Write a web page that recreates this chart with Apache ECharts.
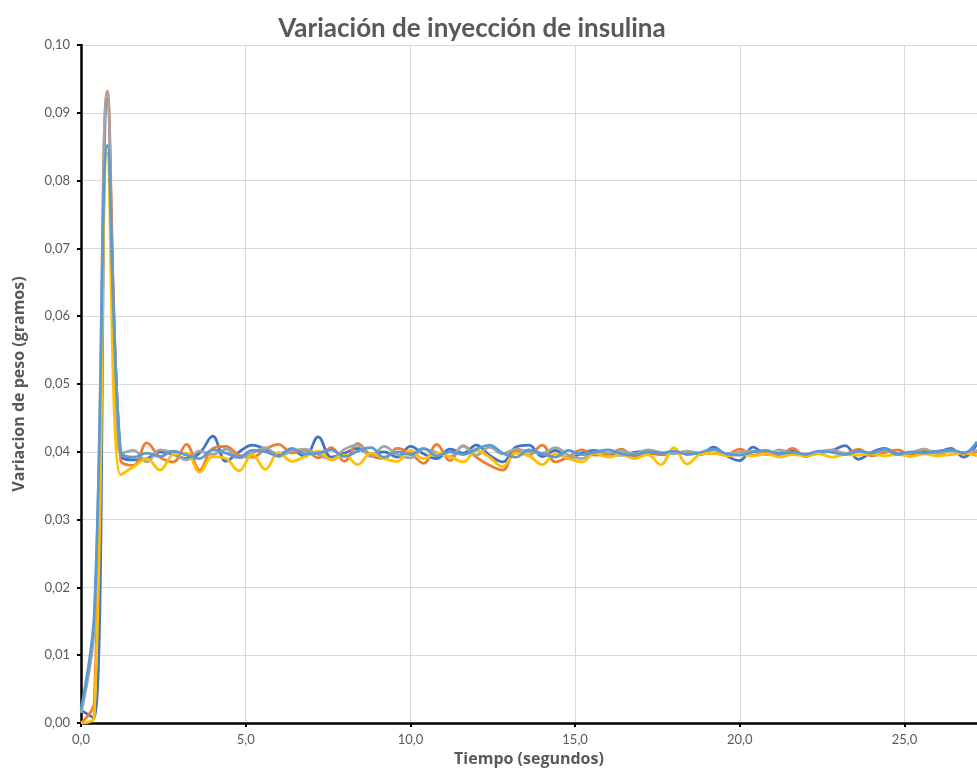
<!DOCTYPE html>
<html>
<head>
<meta charset="utf-8">
<script src="https://cdn.jsdelivr.net/npm/echarts@6/dist/echarts.min.js"></script>
<style>
  html, body { margin: 0; padding: 0; background: #fff; }
  #chart { width: 977px; height: 771px; }
</style>
</head>
<body>
<div id="chart"></div>
<script>
// Sample times (s)
const tiempo = [
  0.0, 0.4, 0.8, 1.2, 1.6, 2.0, 2.4, 2.8, 3.2, 3.6, 4.0, 4.4, 4.8, 5.2, 5.6, 6.0, 6.4, 6.8, 7.2, 7.6,
  8.0, 8.4, 8.8, 9.2, 9.6, 10.0, 10.4, 10.8, 11.2, 11.6, 12.0, 12.4, 12.8, 13.2, 13.6, 14.0, 14.4, 14.8, 15.2, 15.6,
  16.0, 16.4, 16.8, 17.2, 17.6, 18.0, 18.4, 18.8, 19.2, 19.6, 20.0, 20.4, 20.8, 21.2, 21.6, 22.0, 22.4, 22.8, 23.2, 23.6,
  24.0, 24.4, 24.8, 25.2, 25.6, 26.0, 26.4, 26.8, 27.2
];

// Weight variation (g), one list per run
const serie1 = [
  0.0019, 0.0007, 0.0920, 0.0395, 0.0388, 0.0390, 0.0400, 0.0396, 0.0390, 0.0398, 0.0423, 0.0386, 0.0400, 0.0410, 0.0404, 0.0397, 0.0402, 0.0393, 0.0422, 0.0392,
  0.0398, 0.0405, 0.0396, 0.0400, 0.0392, 0.0408, 0.0397, 0.0390, 0.0404, 0.0398, 0.0410, 0.0395, 0.0385, 0.0407, 0.0410, 0.0393, 0.0402, 0.0390, 0.0398, 0.0402,
  0.0397, 0.0395, 0.0399, 0.0401, 0.0396, 0.0398, 0.0400, 0.0396, 0.0407, 0.0394, 0.0387, 0.0407, 0.0396, 0.0398, 0.0401, 0.0395, 0.0398, 0.0402, 0.0409, 0.0389,
  0.0399, 0.0405, 0.0397, 0.0398, 0.0401, 0.0400, 0.0405, 0.0392, 0.0412
];
const serie2 = [
  0.0000, 0.0030, 0.0932, 0.0388, 0.0380, 0.0413, 0.0392, 0.0385, 0.0411, 0.0373, 0.0405, 0.0408, 0.0395, 0.0392, 0.0404, 0.0411, 0.0398, 0.0402, 0.0391, 0.0406,
  0.0386, 0.0412, 0.0395, 0.0390, 0.0405, 0.0398, 0.0383, 0.0411, 0.0387, 0.0409, 0.0392, 0.0380, 0.0373, 0.0402, 0.0395, 0.0410, 0.0385, 0.0393, 0.0403, 0.0395,
  0.0396, 0.0404, 0.0393, 0.0398, 0.0396, 0.0400, 0.0399, 0.0397, 0.0398, 0.0396, 0.0404, 0.0395, 0.0399, 0.0395, 0.0405, 0.0393, 0.0400, 0.0401, 0.0397, 0.0404,
  0.0394, 0.0399, 0.0403, 0.0395, 0.0404, 0.0396, 0.0403, 0.0397, 0.0400
];
const serie3 = [
  0.0015, 0.0140, 0.0930, 0.0397, 0.0402, 0.0385, 0.0403, 0.0398, 0.0388, 0.0401, 0.0396, 0.0404, 0.0391, 0.0398, 0.0406, 0.0393, 0.0401, 0.0404, 0.0396, 0.0389,
  0.0404, 0.0410, 0.0393, 0.0408, 0.0396, 0.0391, 0.0404, 0.0399, 0.0393, 0.0408, 0.0395, 0.0407, 0.0397, 0.0404, 0.0400, 0.0398, 0.0406, 0.0395, 0.0390, 0.0400,
  0.0398, 0.0401, 0.0397, 0.0403, 0.0399, 0.0397, 0.0401, 0.0398, 0.0403, 0.0397, 0.0399, 0.0401, 0.0396, 0.0403, 0.0398, 0.0397, 0.0400, 0.0403, 0.0398, 0.0400,
  0.0398, 0.0402, 0.0396, 0.0399, 0.0404, 0.0397, 0.0401, 0.0399, 0.0402
];
const serie4 = [
  0.0000, 0.0008, 0.0840, 0.0366, 0.0378, 0.0390, 0.0373, 0.0396, 0.0398, 0.0370, 0.0393, 0.0390, 0.0372, 0.0396, 0.0374, 0.0399, 0.0386, 0.0393, 0.0401, 0.0388,
  0.0395, 0.0381, 0.0398, 0.0390, 0.0386, 0.0402, 0.0390, 0.0398, 0.0393, 0.0385, 0.0402, 0.0392, 0.0378, 0.0398, 0.0394, 0.0381, 0.0397, 0.0390, 0.0385, 0.0398,
  0.0392, 0.0396, 0.0390, 0.0396, 0.0381, 0.0406, 0.0382, 0.0396, 0.0398, 0.0394, 0.0396, 0.0394, 0.0397, 0.0392, 0.0396, 0.0394, 0.0397, 0.0392, 0.0396, 0.0395,
  0.0397, 0.0394, 0.0396, 0.0393, 0.0397, 0.0394, 0.0396, 0.0398, 0.0394
];
const serie5 = [
  0.0020, 0.0160, 0.0852, 0.0402, 0.0392, 0.0398, 0.0393, 0.0401, 0.0395, 0.0390, 0.0403, 0.0398, 0.0392, 0.0402, 0.0400, 0.0394, 0.0405, 0.0397, 0.0398, 0.0403,
  0.0393, 0.0401, 0.0406, 0.0392, 0.0400, 0.0396, 0.0405, 0.0394, 0.0400, 0.0396, 0.0404, 0.0410, 0.0398, 0.0392, 0.0403, 0.0397, 0.0392, 0.0402, 0.0396, 0.0399,
  0.0403, 0.0397, 0.0395, 0.0400, 0.0398, 0.0401, 0.0396, 0.0399, 0.0404, 0.0397, 0.0395, 0.0400, 0.0402, 0.0397, 0.0399, 0.0396, 0.0401, 0.0399, 0.0396, 0.0401,
  0.0398, 0.0404, 0.0396, 0.0400, 0.0398, 0.0401, 0.0403, 0.0398, 0.0415
];

const series = [serie1, serie2, serie3, serie4, serie5];
const colores = ['#4472C4', '#ED7D31', '#A5A5A5', '#FFC000', '#5B9BD5'];

const textColor = '#595959';
const fontFam = 'Lato, "Open Sans", sans-serif';
const nameFam = '"Open Sans", Lato, sans-serif';

const chart = echarts.init(document.getElementById('chart'));
chart.setOption({
  animation: false,
  backgroundColor: '#ffffff',
  title: {
    text: 'Variación de inyección de insulina',
    left: 467,
    textAlign: 'center',
    top: 11,
    textStyle: { color: textColor, fontSize: 26, fontWeight: 'bold', fontFamily: fontFam }
  },
  grid: { left: 81, right: 0, top: 45, bottom: 48, containLabel: false, outerBoundsMode: 'none' },
  xAxis: {
    type: 'value',
    min: 0,
    max: 27.2,
    interval: 5,
    name: 'Tiempo (segundos)',
    nameLocation: 'middle',
    nameGap: 28,
    nameTextStyle: { color: textColor, fontSize: 16, fontWeight: 'bold', fontFamily: nameFam },
    axisLine: { lineStyle: { color: '#000', width: 2.5 } },
    axisTick: { show: true, length: 4, lineStyle: { color: '#000', width: 2 } },
    axisLabel: {
      color: textColor, fontSize: 13, fontFamily: fontFam, margin: 10,
      showMaxLabel: false,
      formatter: v => v.toFixed(1).replace('.', ',')
    },
    splitLine: { show: true, lineStyle: { color: '#d9d9d9', width: 1 } }
  },
  yAxis: {
    type: 'value',
    min: 0,
    max: 0.1,
    interval: 0.01,
    name: 'Variacion de peso (gramos)',
    nameLocation: 'middle',
    nameGap: 54,
    nameTextStyle: { color: textColor, fontSize: 16, fontWeight: 'bold', fontFamily: nameFam },
    axisLine: { show: true, lineStyle: { color: '#000', width: 2.5 } },
    axisTick: { show: true, length: 4, lineStyle: { color: '#000', width: 2 } },
    axisLabel: {
      color: textColor, fontSize: 13, fontFamily: fontFam, margin: 11,
      formatter: v => v.toFixed(2).replace('.', ',')
    },
    splitLine: { show: true, lineStyle: { color: '#d9d9d9', width: 1 } }
  },
  series: series.map((s, k) => ({
    type: 'line',
    smooth: 0.4,
    showSymbol: false,
    symbol: 'none',
    data: tiempo.map((t, i) => [t, s[i]]),
    lineStyle: { color: colores[k], width: 2.75 },
    itemStyle: { color: colores[k] },
    z: 2 + k
  }))
});
</script>
</body>
</html>
